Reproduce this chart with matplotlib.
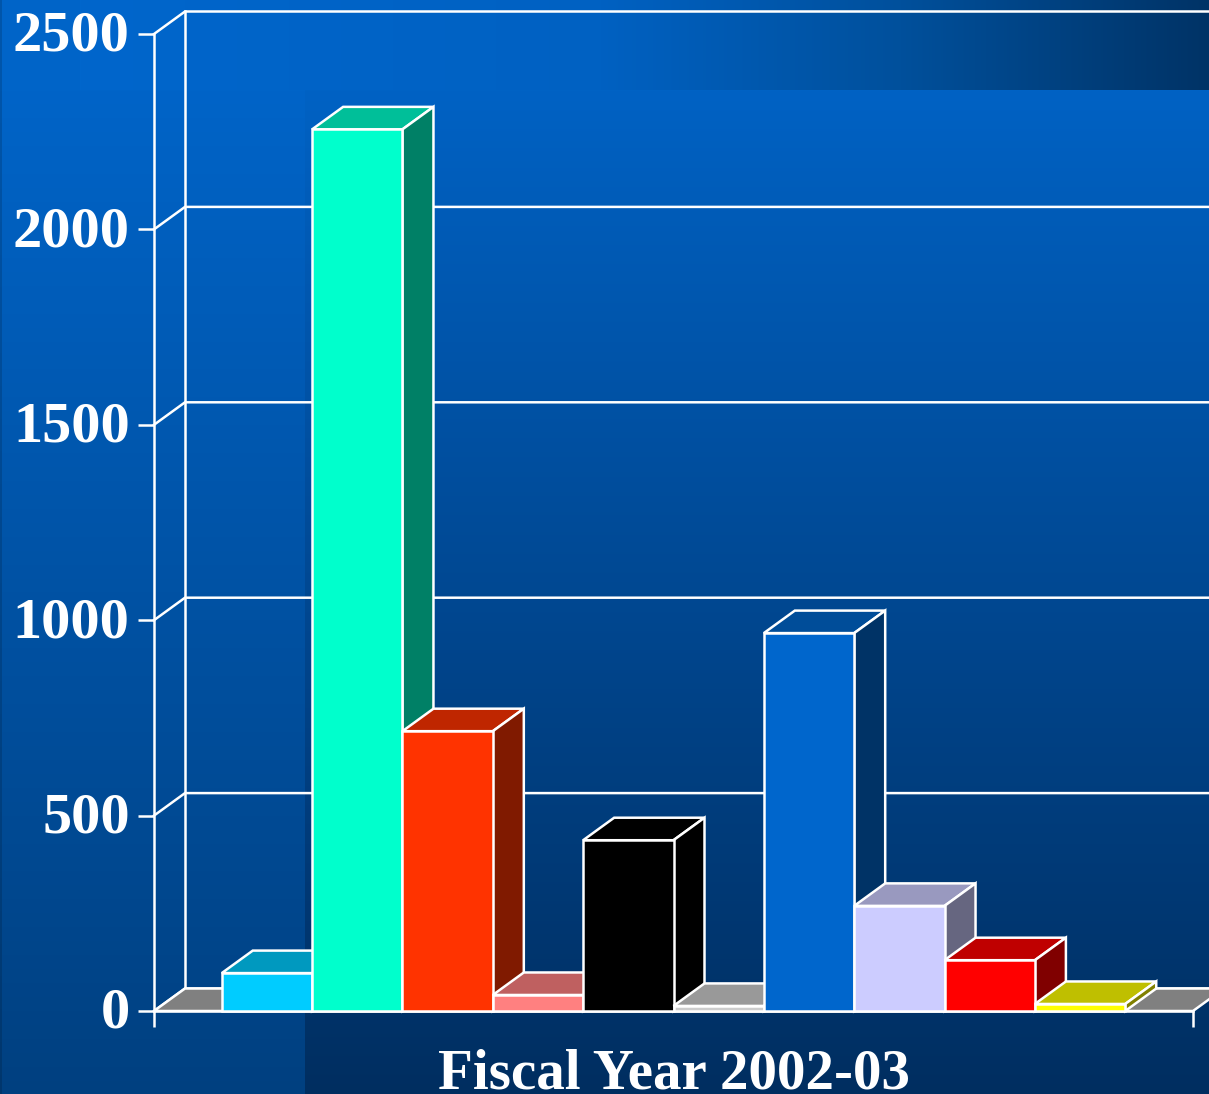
import numpy as np
import matplotlib
matplotlib.use("Agg")
import matplotlib.pyplot as plt
from matplotlib.patches import Polygon
from matplotlib.transforms import ScaledTranslation

# bar heights, left to right
valores = [97, 2256, 716, 41, 437, 13, 967, 269, 130, 18]
cores = ["#00CCFF", "#00FFCC", "#FF3300", "#FF8080", "#000000",
         "#CCCCCC", "#0066CC", "#CCCCFF", "#FF0000", "#FFFF00"]
yticks = [0, 500, 1000, 1500, 2000, 2500]
xlabel = "Fiscal Year 2002-03"

W, H = 1209, 1094
DX = 31 / 90.35   # depth of the 3d look, in bar widths
DY = 22.5 / 0.3908  # same, in value units

plt.rcParams["font.family"] = ["Liberation Serif", "DejaVu Serif"]
fig = plt.figure(figsize=(W / 100, H / 100), dpi=100)


def gradiente(pos, stops, cols):
    cols = np.array([matplotlib.colors.to_rgb(c) for c in cols])
    return np.stack([np.interp(pos, stops, cols[:, i]) for i in range(3)], axis=-1)


# background: vertical gradient, lighter strip on the left, band on top
yy = np.arange(H)
xx = np.arange(W)
img = np.tile(gradiente(yy, [90, 1094], ["#0062C4", "#002E60"])[:, None, :], (1, W, 1))
img[:, :305] = gradiente(yy, [90, 1094], ["#0064C8", "#004080"])[:, None, :]
img[:90, 80:] = gradiente(xx[80:], [80, 600, 900, 1209], ["#0066CC", "#0061C2", "#00509C", "#003366"])[None, :, :]
img[:, :2] = img[:, :2] * 0.85

bg = fig.add_axes([0, 0, 1, 1])
bg.imshow(img, aspect="auto", interpolation="nearest")
bg.axis("off")

ax = fig.add_axes([154 / W, 1 - 1011 / H, (1193 - 154) / W, (1011 - 34) / H])
ax.patch.set_alpha(0)
ax.set_xlim(-0.75, 10.75)
ax.set_ylim(0, 2500)

LW = 1.8


def poli(pts, cor, z):
    ax.add_patch(Polygon(pts, closed=True, facecolor=cor, edgecolor="white",
                         linewidth=LW, joinstyle="miter", clip_on=False, zorder=z))


def escurece(cor, f):
    return tuple(c * f for c in matplotlib.colors.to_rgb(cor))


# walls and grid
for v in yticks:
    ax.plot([-0.75, -0.75 + DX, 10.75 + DX], [v, v + DY, v + DY], color="white",
            lw=LW, clip_on=False, zorder=1, solid_joinstyle="miter")
ax.plot([-0.75 + DX] * 2, [DY, 2500 + DY], color="white", lw=LW, clip_on=False, zorder=1)

# floor
poli([(-0.75, 0), (-0.75 + DX, DY), (10.75 + DX, DY), (10.75, 0)], "#808080", 2)

# bars, left to right so each one covers the depth of the previous
for i, (v, c) in enumerate(zip(valores, cores)):
    z = 3 + i
    poli([(i, v), (i + DX, v + DY), (i + 1 + DX, v + DY), (i + 1, v)], escurece(c, 0.75), z)
    poli([(i + 1, 0), (i + 1 + DX, DY), (i + 1 + DX, v + DY), (i + 1, v)], escurece(c, 0.5), z)
    poli([(i, 0), (i, v), (i + 1, v), (i + 1, 0)], c, z)

for s in ["top", "right"]:
    ax.spines[s].set_visible(False)
for s in ["left", "bottom"]:
    ax.spines[s].set_color("white")
    ax.spines[s].set_linewidth(LW)

ax.set_yticks(yticks)
ax.set_xticks([-0.75, 10.75])
ax.set_xticklabels([])
ax.tick_params(axis="both", color="white", width=LW, length=11.5)
ax.tick_params(axis="y", labelcolor="white", labelsize=42, pad=6)
# labels sit a little higher than the tick
sobe = ScaledTranslation(0, 3 / 100, fig.dpi_scale_trans)
for t in ax.get_yticklabels():
    t.set_fontweight("bold")
    t.set_transform(t.get_transform() + sobe)
ax.set_xlabel(xlabel, color="white", fontsize=41, fontweight="bold", labelpad=12)

fig.savefig("out.png", dpi=100)
